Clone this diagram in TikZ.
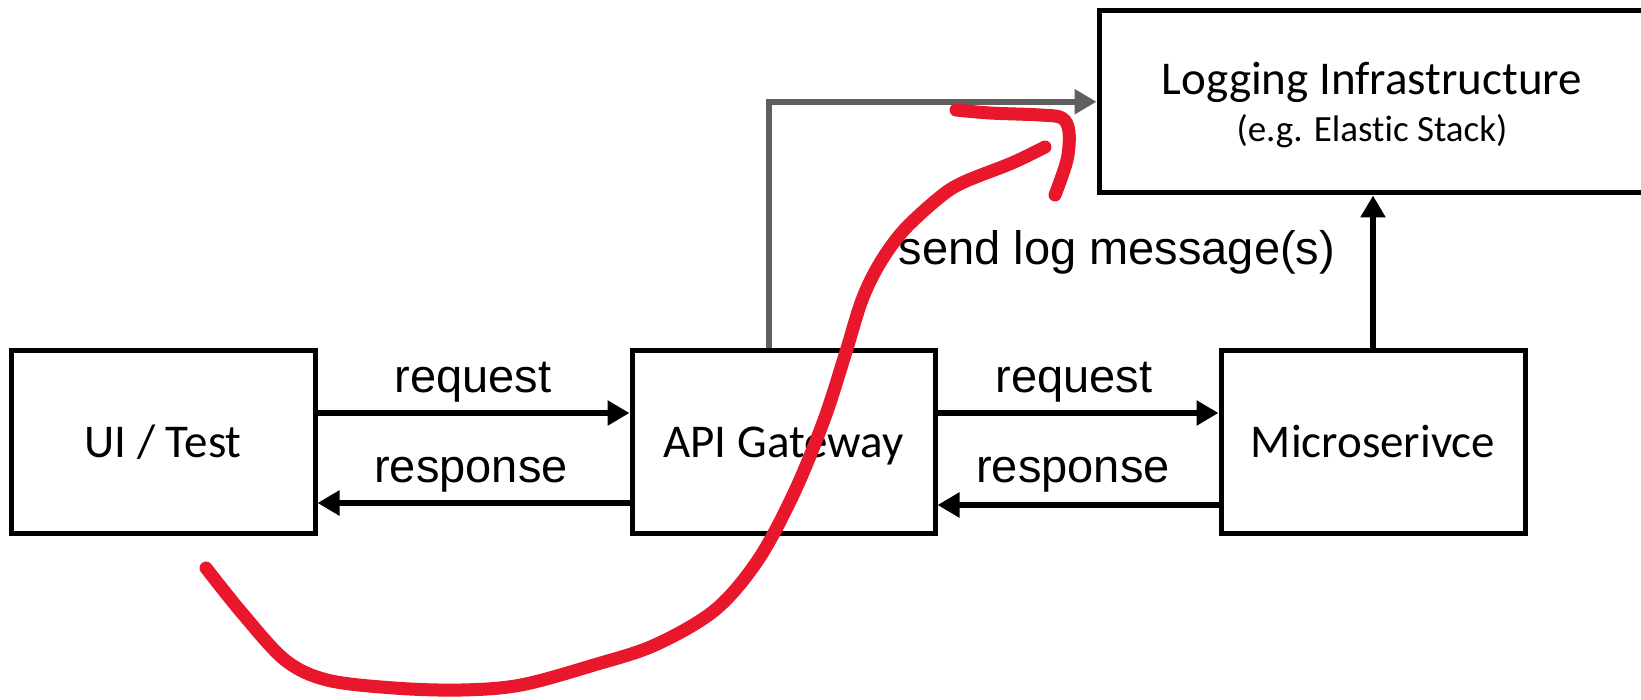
\documentclass[tikz,border=0pt]{standalone}
\usepackage{fontspec}
\setmainfont{Carlito}[Ligatures=NoCommon,RawFeature=-liga]
\newfontfamily\arialfont{Liberation Sans}
\usetikzlibrary{arrows.meta}
\definecolor{redpen}{HTML}{E8172B}
\definecolor{grayline}{HTML}{5F5F5F}
\begin{document}
\begin{tikzpicture}[x=1pt,y=-1pt,
  box/.style={draw=black, line width=5pt, rectangle, inner sep=0pt,
    text height=30pt, text depth=0pt, font=\fontsize{47}{56}\selectfont},
  boxtext/.style={anchor=base, inner sep=0pt},
  lbl/.style={font=\arialfont\fontsize{47}{56}\selectfont, anchor=base, inner sep=0pt},
  flow/.style={line width=6pt, -{Triangle[length=22pt,width=24pt]}},
  grayflow/.style={draw=grayline, line width=6pt, -{Triangle[length=22pt,width=24pt]}},
  pen/.style={draw=redpen, line width=13pt, line cap=round, line join=round},
]
\useasboundingbox (0,0) rectangle (1641,700);
\fill[white] (0,0) rectangle (1641,700);

% boxes
\node[box, minimum width=304pt, minimum height=182pt] (ui) at (163,442) {UI / Test};
\node[box, minimum width=303pt, minimum height=182pt] (api) at (783.5,442) {API Gateway};
\node[box, minimum width=304pt, minimum height=182pt] (ms) at (1373,442) {Microserivce};
\node[box, minimum width=546pt, minimum height=182.5pt] (log) at (1372,101.75) {};
\node[boxtext, font=\fontsize{47}{56}\selectfont] (logt1) at (1372,95) {Logging Infrastructure};
\node[boxtext, font=\fontsize{37}{44}\selectfont] (logt2) at (1372,142) {(e.g. Elastic Stack)};

% request / response arrows
\draw[flow] ([yshift=29pt]ui.east) -- ([yshift=29pt]api.west);
\draw[flow] ([yshift=-61pt]api.west) -- ([yshift=-61pt]ui.east);
\draw[flow] ([yshift=29pt]api.east) -- ([yshift=29pt]ms.west);
\draw[flow] ([yshift=-63pt]ms.west) -- ([yshift=-63pt]api.east);

\node[lbl] (req1) at (473,392) {request};
\node[lbl] (resp1) at (471,482) {response};
\node[lbl] (req2) at (1074,392) {request};
\node[lbl] (resp2) at (1073,482) {response};

% log arrows
\draw[grayflow] ([xshift=-14.5pt]api.north) |- (log.west);
\draw[flow] (ms.north) -- (ms.north |- log.south);
\node[lbl] (send) at (1117,265) {send log message(s)};

% red hand-drawn annotation
\draw[pen] plot[smooth, tension=0.55] coordinates {(206,568) (242,613) (285,660) (327,680) (394,688) (461,690) (521,685) (594,665) (655,645) (715,610) (758,560) (794,493) (824,420) (845,355) (862,300) (880,263) (904,230) (940,197) (964,182) (1012,163) (1045,147)};
\draw[pen] plot[smooth, tension=0.55] coordinates {(956,110) (990,113) (1040,115) (1062,118) (1069,132) (1067,160) (1055,195)};
\end{tikzpicture}
\end{document}
